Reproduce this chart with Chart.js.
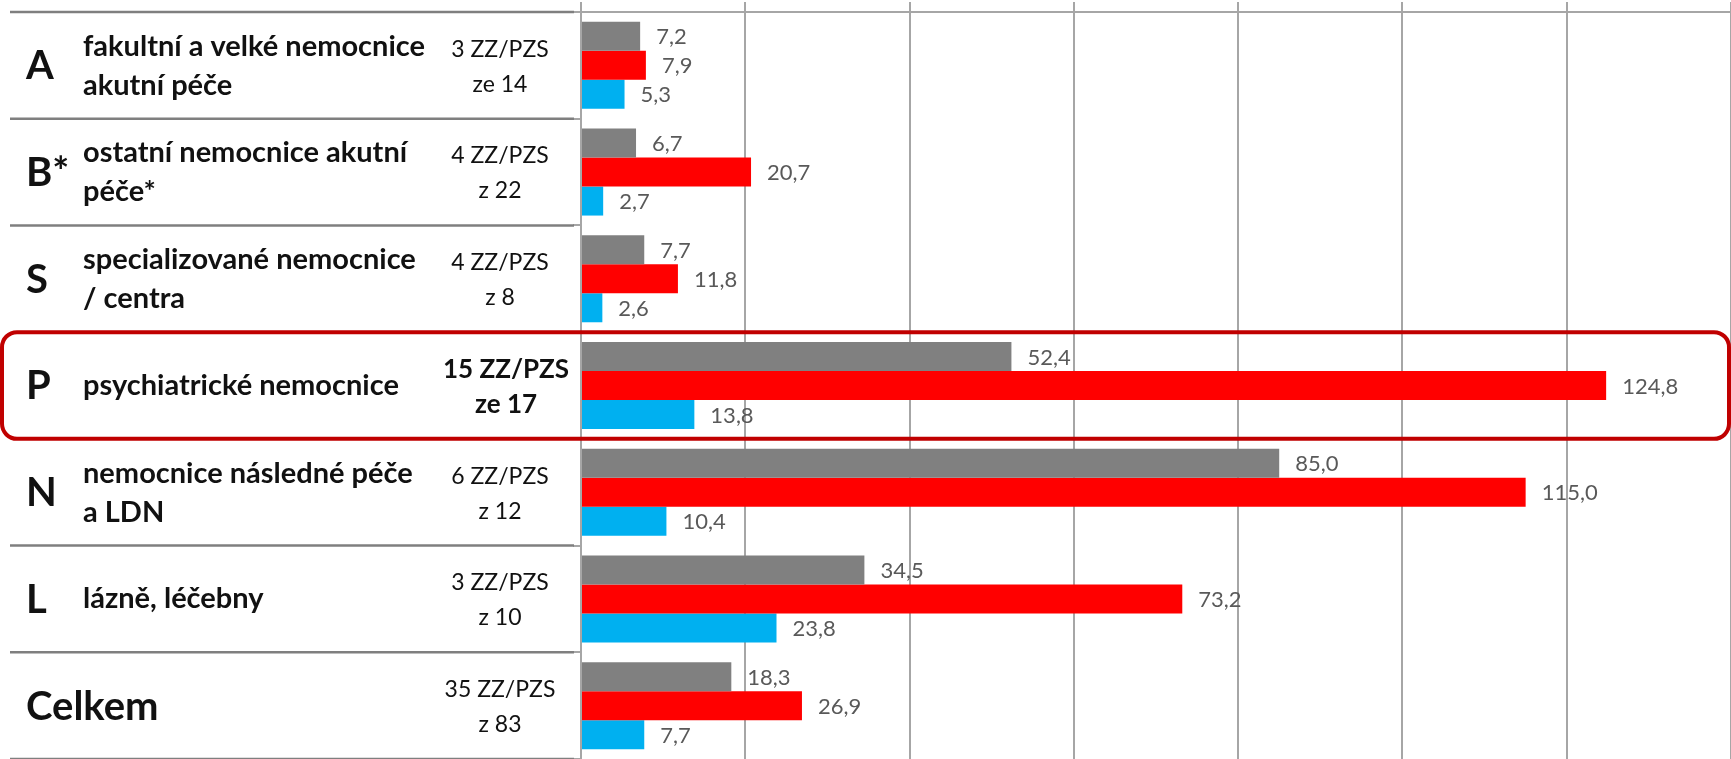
<!DOCTYPE html>
<html>
<head>
<meta charset="utf-8">
<script src="https://cdn.jsdelivr.net/npm/chart.js@4/dist/chart.umd.min.js"></script>
<style>
  html, body { margin: 0; padding: 0; background: #ffffff; }
  #wrap { width: 1731px; height: 759px; position: relative; }
</style>
</head>
<body>
<div id="wrap"><canvas id="c" width="1731" height="759"></canvas></div>
<script>
// ---- data ----
const categories = ['A', 'B*', 'S', 'P', 'N', 'L', 'Celkem'];
const categoryNames = [
  ['fakultní a velké nemocnice', 'akutní péče'],
  ['ostatní nemocnice akutní', 'péče*'],
  ['specializované nemocnice', '/ centra'],
  ['psychiatrické nemocnice'],
  ['nemocnice následné péče', 'a LDN'],
  ['lázně, léčebny'],
  []
];
const facilityCounts = [
  ['3 ZZ/PZS', 'ze 14'],
  ['4 ZZ/PZS', 'z 22'],
  ['4 ZZ/PZS', 'z 8'],
  ['15 ZZ/PZS', 'ze 17'],
  ['6 ZZ/PZS', 'z 12'],
  ['3 ZZ/PZS', 'z 10'],
  ['35 ZZ/PZS', 'z 83']
];
const highlightedCategory = 'P';
const seriesGray = [7.2, 6.7, 7.7, 52.4, 85.0, 34.5, 18.3];
const seriesRed  = [7.9, 20.7, 11.8, 124.8, 115.0, 73.2, 26.9];
const seriesBlue = [5.3, 2.7, 2.6, 13.8, 10.4, 23.8, 7.7];
const xTickMin = 0;
const xTickMax = 140;
const xTickStep = 20;

const FONT = 'Lato, "Open Sans", sans-serif';
const fmt = v => v.toFixed(1).replace('.', ',');

// ---- plugin: left table + value labels + highlight box ----
const tablePlugin = {
  id: 'tablePlugin',
  afterDraw(chart) {
    const ctx = chart.ctx;
    const y = chart.scales.y;
    const area = chart.chartArea;
    const n = categories.length;
    const band = (area.bottom - area.top) / n;
    const hi = categories.indexOf(highlightedCategory);

    ctx.save();
    // separator lines
    ctx.strokeStyle = '#7f7f7f';
    ctx.lineWidth = 2.5;
    for (let i = 0; i <= n; i++) {
      if (i === hi || i === hi + 1) continue;
      const yy = y.getPixelForValue(Math.min(i, n - 1)) + (i === n ? band / 2 : -band / 2);
      ctx.beginPath();
      ctx.moveTo(10, yy);
      ctx.lineTo(574, yy);
      ctx.stroke();
    }

    // texts
    for (let i = 0; i < n; i++) {
      const cy = y.getPixelForValue(i);
      const bold = i === hi;
      ctx.fillStyle = '#111111';
      ctx.textBaseline = 'middle';
      ctx.textAlign = 'left';
      ctx.font = 'bold 40px ' + FONT;
      ctx.fillText(categories[i], 26, cy + 1);

      ctx.font = 'bold 29px ' + FONT;
      const nm = categoryNames[i];
      if (nm.length === 1) {
        ctx.fillText(nm[0], 83, cy);
      } else if (nm.length === 2) {
        ctx.fillText(nm[0], 83, cy - 19);
        ctx.fillText(nm[1], 83, cy + 20);
      }

      ctx.textAlign = 'center';
      ctx.font = bold ? 'bold 26px ' + FONT : '23px ' + FONT;
      const ct = facilityCounts[i];
      const cx = bold ? 506 : 500;
      ctx.fillText(ct[0], cx, cy - 16);
      ctx.fillText(ct[1], cx, cy + 19);
    }

    // value labels
    ctx.font = '22px ' + FONT;
    ctx.fillStyle = '#595959';
    ctx.textAlign = 'left';
    ctx.textBaseline = 'middle';
    chart.data.datasets.forEach((ds, di) => {
      const meta = chart.getDatasetMeta(di);
      meta.data.forEach((bar, j) => {
        ctx.fillText(fmt(ds.data[j]), bar.x + 16, bar.y + 1);
      });
    });

    // highlight box
    const top = y.getPixelForValue(hi) - band / 2;
    const bot = y.getPixelForValue(hi) + band / 2;
    ctx.strokeStyle = '#c00000';
    ctx.lineWidth = 4;
    ctx.beginPath();
    ctx.roundRect(2, top, chart.width - 4, bot - top, 15);
    ctx.stroke();
    ctx.restore();
  }
};

const barOpts = { categoryPercentage: 0.815, barPercentage: 1.0 };

new Chart(document.getElementById('c'), {
  type: 'bar',
  data: {
    labels: categories,
    datasets: [
      Object.assign({ label: 'šedá', data: seriesGray, backgroundColor: '#808080' }, barOpts),
      Object.assign({ label: 'červená', data: seriesRed, backgroundColor: '#ff0000' }, barOpts),
      Object.assign({ label: 'modrá', data: seriesBlue, backgroundColor: '#00b0f0' }, barOpts)
    ]
  },
  options: {
    indexAxis: 'y',
    responsive: false,
    animation: false,
    layout: { padding: { left: 571, right: 0, top: 0, bottom: 0 } },
    plugins: { legend: { display: false }, tooltip: { enabled: false } },
    scales: {
      x: {
        position: 'top',
        min: xTickMin,
        max: xTickMax,
        ticks: { display: false, stepSize: xTickStep },
        grid: { color: '#a6a6a6', lineWidth: 2, drawTicks: true, tickLength: 10 },
        border: { display: true, color: '#a6a6a6', width: 2 },
        afterFit: s => { s.height = 12; }
      },
      y: {
        ticks: { display: false },
        grid: { offset: true, drawOnChartArea: false, drawTicks: true, tickLength: 8, color: '#a6a6a6', lineWidth: 2 },
        border: { display: true, color: '#a6a6a6', width: 2 },
        afterFit: s => { s.width = 10; }
      }
    }
  },
  plugins: [tablePlugin]
});
</script>
</body>
</html>
